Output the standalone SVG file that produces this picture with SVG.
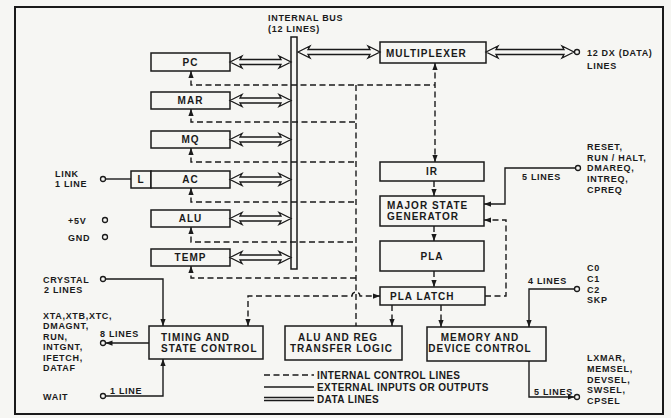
<svg xmlns="http://www.w3.org/2000/svg" width="671" height="418" viewBox="0 0 671 418">
<defs>
<style>
text{font-family:"Liberation Sans",Arial,sans-serif;font-weight:bold;fill:#1a1a1a;}
.b{font-size:10px;letter-spacing:1px;}
.s{font-size:9px;letter-spacing:0.7px;}
.lg{font-size:10px;letter-spacing:0.4px;}
.c{text-anchor:middle;}
.box{fill:#f6f6f3;stroke:#1a1a1a;stroke-width:1.5;}
.da{fill:#f6f6f3;stroke:#1a1a1a;stroke-width:1.3;stroke-linejoin:miter;}
.ctl{fill:none;stroke:#1a1a1a;stroke-width:1.4;stroke-dasharray:6 3.5;}
.ext{fill:none;stroke:#1a1a1a;stroke-width:1.4;}
.pin{fill:#f6f6f3;stroke:#1a1a1a;stroke-width:1.3;}
</style>
<marker id="ah" viewBox="0 0 8 6" refX="8" refY="3" markerWidth="7" markerHeight="5.5" markerUnits="userSpaceOnUse" orient="auto-start-reverse"><path d="M0,0 L8,3 L0,6 z" fill="#1a1a1a"/></marker>
</defs>
<rect x="0" y="0" width="671" height="418" fill="#f6f6f3"/>
<rect x="15" y="7" width="648" height="407" fill="none" stroke="#1a1a1a" stroke-width="2"/>

<g id="bus">
<rect x="291" y="37" width="6" height="232" class="box"/>
<text class="s" x="268" y="21">INTERNAL BUS</text>
<text class="s" x="268" y="32">(12 LINES)</text>
</g>

<g id="pc"><rect x="151" y="53" width="79" height="18" class="box"/><text class="b c" x="190.5" y="65.5">PC</text></g>
<g id="mar"><rect x="151" y="92" width="79" height="17" class="box"/><text class="b c" x="190.5" y="104">MAR</text></g>
<g id="mq"><rect x="151" y="131" width="79" height="17" class="box"/><text class="b c" x="190.5" y="143">MQ</text></g>
<g id="ac"><rect x="131" y="171" width="20" height="17" class="box"/><text class="b c" x="141" y="183">L</text><rect x="151" y="171" width="79" height="17" class="box"/><text class="b c" x="190.5" y="183">AC</text></g>
<g id="alu"><rect x="151" y="210" width="79" height="17" class="box"/><text class="b c" x="190.5" y="222">ALU</text></g>
<g id="temp"><rect x="151" y="249" width="79" height="17" class="box"/><text class="b c" x="190.5" y="261">TEMP</text></g>

<g id="multiplexer"><rect x="380" y="42" width="106" height="21" class="box"/><text class="b" x="386" y="56.5">MULTIPLEXER</text></g>
<g id="ir"><rect x="380" y="162" width="104" height="19" class="box"/><text class="b c" x="432" y="175">IR</text></g>
<g id="msg"><rect x="380" y="196" width="104" height="30" class="box"/><text class="b" x="387" y="208.5">MAJOR STATE</text><text class="b" x="387" y="219.5">GENERATOR</text></g>
<g id="pla"><rect x="380" y="241" width="104" height="30" class="box"/><text class="b c" x="432" y="259.5">PLA</text></g>
<g id="plalatch"><rect x="380" y="287" width="105" height="18" class="box"/><text class="b" x="390" y="299.5">PLA LATCH</text></g>
<g id="timing"><rect x="149" y="326" width="114" height="33" class="box"/><text class="b" x="161" y="341">TIMING AND</text><text class="b" x="161" y="352">STATE CONTROL</text></g>
<g id="aluregtl"><rect x="285" y="326" width="117" height="34" class="box"/><text class="b" x="298" y="341">ALU AND REG</text><text class="b" x="290" y="352">TRANSFER LOGIC</text></g>
<g id="memdev"><rect x="427" y="327" width="119" height="34" class="box"/><text class="b c" x="480" y="341">MEMORY AND</text><text class="b c" x="480" y="352">DEVICE CONTROL</text></g>

<g id="connectors">
<!-- data lines -->
<polygon class="da" points="230,62 242,56 240,59.5 281,59.5 279,56 291,62 279,68 281,64.5 240,64.5 242,68"/>
<polygon class="da" points="230,100.5 242,94.5 240,98 281,98 279,94.5 291,100.5 279,106.5 281,103 240,103 242,106.5"/>
<polygon class="da" points="230,139.5 242,133.5 240,137 281,137 279,133.5 291,139.5 279,145.5 281,142 240,142 242,145.5"/>
<polygon class="da" points="230,179.5 242,173.5 240,177 281,177 279,173.5 291,179.5 279,185.5 281,182 240,182 242,185.5"/>
<polygon class="da" points="230,218.5 242,212.5 240,216 281,216 279,212.5 291,218.5 279,224.5 281,221 240,221 242,224.5"/>
<polygon class="da" points="230,257.5 242,251.5 240,255 281,255 279,251.5 291,257.5 279,263.5 281,260 240,260 242,263.5"/>
<polygon class="da" points="298,52 310,46 308,49.5 370,49.5 368,46 380,52 368,58 370,54.5 308,54.5 310,58"/>
<polygon class="da" points="486,52 498,46 496,49.5 564,49.5 562,46 574,52 562,58 564,54.5 496,54.5 498,58"/>
<circle class="pin" cx="577" cy="52" r="2.5"/>

<!-- internal control lines -->
<path class="ctl" d="M191,71 V85 H435" marker-start="url(#ah)"/>
<path class="ctl" d="M191,109 V122 H356" marker-start="url(#ah)"/>
<path class="ctl" d="M191,148 V162 H356" marker-start="url(#ah)"/>
<path class="ctl" d="M191,188 V202 H356" marker-start="url(#ah)"/>
<path class="ctl" d="M191,227 V242 H356" marker-start="url(#ah)"/>
<path class="ctl" d="M191,266 V278 H356" marker-start="url(#ah)"/>
<path class="ctl" d="M356,85 V326"/>
<path class="ctl" d="M435,63 V162" marker-start="url(#ah)" marker-end="url(#ah)"/>
<path class="ctl" d="M248,326 V296 H352 A4,4 0 0 1 360,296 H380" marker-start="url(#ah)" marker-end="url(#ah)"/>
<path class="ctl" d="M434,181 V196" marker-end="url(#ah)"/>
<path class="ctl" d="M434,226 V241" marker-end="url(#ah)"/>
<path class="ctl" d="M434,271 V287" marker-end="url(#ah)"/>
<path class="ctl" d="M392,305 V326" marker-end="url(#ah)"/>
<path class="ctl" d="M441,305 V327" marker-end="url(#ah)"/>
<path class="ctl" d="M485,296 H506 V220 H484" marker-end="url(#ah)"/>

<!-- external lines -->
<path class="ext" d="M575,168 H505 V204 H484" marker-end="url(#ah)"/>
<circle class="pin" cx="578" cy="168" r="2.5"/>
<path class="ext" d="M574,289 H529 V327" marker-end="url(#ah)"/>
<circle class="pin" cx="577" cy="289" r="2.5"/>
<path class="ext" d="M529,361 V397 H574.5" marker-end="url(#ah)"/>
<circle class="pin" cx="577" cy="397" r="2.5"/>
<path class="ext" d="M106,279 H163 V326" marker-end="url(#ah)"/>
<circle class="pin" cx="103" cy="279" r="2.5"/>
<path class="ext" d="M149,343 H105.5" marker-end="url(#ah)"/>
<circle class="pin" cx="103" cy="343" r="2.5"/>
<path class="ext" d="M106,396 H163 V359" marker-end="url(#ah)"/>
<circle class="pin" cx="103" cy="396" r="2.5"/>
<path class="ext" d="M106,179 H131"/>
<circle class="pin" cx="103" cy="179" r="2.5"/>
<circle class="pin" cx="105" cy="220" r="2.5"/>
<circle class="pin" cx="105" cy="237" r="2.5"/>
</g>

<g id="labels">
<text class="s" x="587" y="55.5">12 DX (DATA)</text>
<text class="s" x="587" y="68.5">LINES</text>
<text class="s" x="587" y="149.5">RESET,</text>
<text class="s" x="587" y="160.5">RUN / HALT,</text>
<text class="s" x="587" y="171">DMAREQ,</text>
<text class="s" x="587" y="182">INTREQ,</text>
<text class="s" x="587" y="192.5">CPREQ</text>
<text class="s" x="522" y="179.5">5 LINES</text>
<text class="s" x="528" y="284">4 LINES</text>
<text class="s" x="587" y="271">C0</text>
<text class="s" x="587" y="281.5">C1</text>
<text class="s" x="587" y="292.5">C2</text>
<text class="s" x="587" y="303">SKP</text>
<text class="s" x="534" y="395">5 LINES</text>
<text class="s" x="587" y="361">LXMAR,</text>
<text class="s" x="587" y="372">MEMSEL,</text>
<text class="s" x="587" y="382.5">DEVSEL,</text>
<text class="s" x="587" y="393">SWSEL,</text>
<text class="s" x="587" y="403.5">CPSEL</text>
<text class="s" x="55" y="176.5">LINK</text>
<text class="s" x="55" y="187">1 LINE</text>
<text class="s" x="68" y="223.5">+5V</text>
<text class="s" x="68" y="240.5">GND</text>
<text class="s" x="43" y="282.5">CRYSTAL</text>
<text class="s" x="44" y="293">2 LINES</text>
<text class="s" x="43" y="318.5">XTA,XTB,XTC,</text>
<text class="s" x="43" y="329">DMAGNT,</text>
<text class="s" x="43" y="339.5">RUN,</text>
<text class="s" x="43" y="350">INTGNT,</text>
<text class="s" x="43" y="360.5">IFETCH,</text>
<text class="s" x="43" y="371">DATAF</text>
<text class="s" x="100" y="336.5">8 LINES</text>
<text class="s" x="110" y="393.5">1 LINE</text>
<text class="s" x="43" y="400">WAIT</text>
</g>

<g id="legend">
<line class="ctl" x1="264" y1="375" x2="314" y2="375"/>
<line class="ext" x1="264" y1="387" x2="314" y2="387"/>
<line class="ext" x1="264" y1="397.5" x2="314" y2="397.5"/>
<line class="ext" x1="264" y1="400.5" x2="314" y2="400.5"/>
<text class="lg" x="317" y="378.5">INTERNAL CONTROL LINES</text>
<text class="lg" x="317" y="390.5">EXTERNAL INPUTS OR OUTPUTS</text>
<text class="lg" x="317" y="402.5">DATA LINES</text>
</g>
</svg>
